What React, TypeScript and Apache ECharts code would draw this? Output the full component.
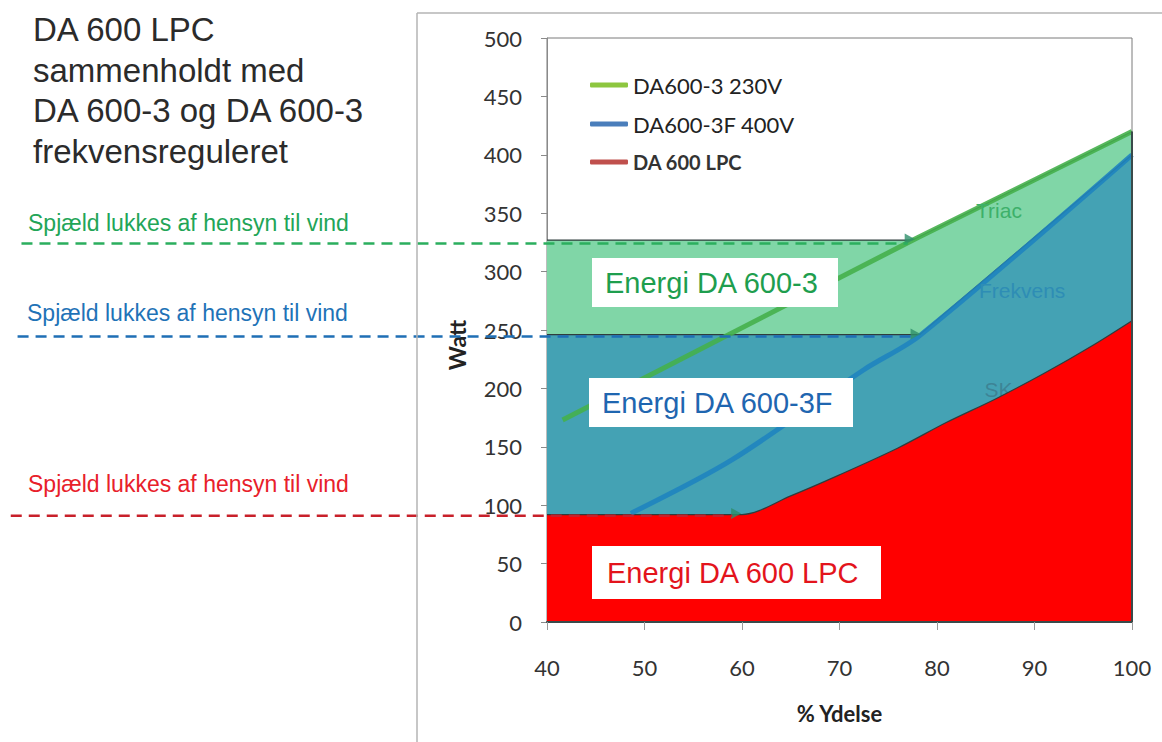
import React, { useEffect, useRef } from "react";
import * as echarts from "echarts";

// ---- axis ticks ----
const xMin = 40;
const xMax = 100;
const xStep = 10;
const yMin = 0;
const yMax = 500;
const yStep = 50;

// ---- energy regions (upper boundary of each filled area) ----
const greenAreaX = [40, 77.5, 100];
const greenAreaY = [327, 327, 420];
const blueAreaX = [40, 78.2, 100];
const blueAreaY = [246, 246, 400];
const redAreaX = [40, 60, 65, 70, 76, 81, 86, 91, 96, 100];
const redAreaY = [92, 92, 108, 126, 149, 171, 191, 213, 237, 258];

// ---- characteristic lines ----
const greenLineX = [41.6, 78, 100];
const greenLineY = [173, 329, 420];
const blueLineX = [48.6, 59, 72.5, 78.2, 100];
const blueLineY = [93, 139, 216, 245, 400];

// ---- "damper closes" dashed levels (x in % Ydelse, extending left of the axis) ----
const greenDashX = [-13.9, 77];
const greenDashY = [324, 324];
const blueDashX = [-14.3, 77.5];
const blueDashY = [244.5, 244.5];
const redDashX = [-15, 59];
const redDashY = [91, 91];

// ---- arrow heads at the bends ----
const arrowX = [77.2, 77.8, 59.4];
const arrowY = [328, 246.5, 93];

// ---- names ----
const seriesNames = ["DA600-3 230V", "DA600-3F 400V", "DA 600 LPC"];
const annotation = "Spjæld lukkes af hensyn til vind";
const titleLines = ["DA 600 LPC", "sammenholdt med", "DA 600-3 og DA 600-3", "frekvensreguleret"];

const zip = (xs: number[], ys: number[]) => xs.map((x, i) => [x, ys[i]]);

export default function App() {
  const ref = useRef<HTMLDivElement>(null);

  useEffect(() => {
    document.body.style.margin = "0";
    const chart = echarts.init(ref.current!, undefined, { renderer: "svg" });
    const outline = { color: "#2f3d3d", width: 1.2 };
    const sansTxt = '"Liberation Sans", Arial, sans-serif';

    const graphics: any[] = [
      { type: "line", z: 100, shape: { x1: 417, y1: 13, x2: 417, y2: 742 }, style: { stroke: "#b4b4b4", lineWidth: 1.5 } },
      { type: "line", z: 100, shape: { x1: 417, y1: 13, x2: 1162, y2: 13 }, style: { stroke: "#b4b4b4", lineWidth: 1.5 } },
      {
        type: "text",
        z: 100,
        x: 33,
        y: 9,
        style: { text: titleLines.join("\n"), font: `33px ${sansTxt}`, lineHeight: 40.7, fill: "#2b2b2b" },
      },
      { type: "text", z: 100, x: 28, y: 223, style: { text: annotation, font: `23px ${sansTxt}`, fill: "#22A557", verticalAlign: "middle" } },
      { type: "text", z: 100, x: 27, y: 313, style: { text: annotation, font: `23px ${sansTxt}`, fill: "#1F73B7", verticalAlign: "middle" } },
      { type: "text", z: 100, x: 28, y: 484, style: { text: annotation, font: `23px ${sansTxt}`, fill: "#E8202A", verticalAlign: "middle" } },
      // energy labels
      { type: "rect", z: 100, shape: { x: 592, y: 258, width: 246, height: 49 }, style: { fill: "#ffffff" } },
      { type: "text", z: 101, x: 605, y: 283, style: { text: "Energi DA 600-3", font: `29px ${sansTxt}`, fill: "#1E9E4E", verticalAlign: "middle" } },
      { type: "rect", z: 100, shape: { x: 589, y: 378, width: 264, height: 49 }, style: { fill: "#ffffff" } },
      { type: "text", z: 101, x: 602, y: 403, style: { text: "Energi DA 600-3F", font: `29px ${sansTxt}`, fill: "#1F66B0", verticalAlign: "middle" } },
      { type: "rect", z: 100, shape: { x: 592, y: 546, width: 289, height: 53 }, style: { fill: "#ffffff" } },
      { type: "text", z: 101, x: 607, y: 573, style: { text: "Energi DA 600 LPC", font: `29px ${sansTxt}`, fill: "#E3141C", verticalAlign: "middle" } },
      { type: "text", z: 100, x: 976, y: 210, style: { text: "Triac", font: `21px ${sansTxt}`, fill: "#3DB06A", verticalAlign: "middle" } },
      { type: "text", z: 100, x: 979, y: 290, style: { text: "Frekvens", font: `21px ${sansTxt}`, fill: "#2E8DB5", verticalAlign: "middle" } },
    ];

    const option: any = {
      animation: false,
      backgroundColor: "#ffffff",
      textStyle: { fontFamily: "Lato" },
      grid: {
        left: 547,
        right: 30,
        top: 38,
        bottom: 120,
        show: true,
        borderColor: "#7a7a7a",
        borderWidth: 1,
      },
      xAxis: {
        type: "value",
        min: xMin,
        max: xMax,
        interval: xStep,
        name: "% Ydelse",
        nameLocation: "middle",
        nameGap: 80,
        nameTextStyle: { fontWeight: "bold", fontSize: 22, color: "#222", fontFamily: "Lato" },
        axisLine: { show: true, lineStyle: { color: "#3a4a4a", width: 2 } },
        axisTick: { show: true, length: 8, lineStyle: { color: "#9a9a9a" } },
        axisLabel: { fontSize: 22, color: "#333", margin: 34, fontFamily: "Lato" },
        splitLine: { show: false },
        z: 10,
      },
      yAxis: {
        type: "value",
        min: yMin,
        max: yMax,
        interval: yStep,
        name: "Watt",
        nameLocation: "middle",
        nameGap: 79,
        nameRotate: 90,
        nameTextStyle: { fontWeight: "bold", fontSize: 23, color: "#222", fontFamily: "Lato", padding: [0, 0, 0, -30] },
        axisLine: { show: true, lineStyle: { color: "#8a8a8a" } },
        axisTick: { show: true, length: 6, lineStyle: { color: "#8a8a8a" } },
        axisLabel: { fontSize: 22, color: "#333", margin: 25, fontFamily: "Lato" },
        splitLine: { show: false },
      },
      legend: {
        orient: "vertical",
        left: 585,
        top: 69,
        itemWidth: 38,
        itemHeight: 5,
        itemGap: 17,
        icon: "roundRect",
        textStyle: { fontSize: 22, color: "#222", fontFamily: "Lato" },
        data: [
          { name: seriesNames[0], itemStyle: { color: "#8DC63F", borderWidth: 0 } },
          { name: seriesNames[1], itemStyle: { color: "#4A7EBB", borderWidth: 0 } },
          {
            name: seriesNames[2],
            itemStyle: { color: "#C0504D", borderWidth: 0 },
            textStyle: { fontWeight: "bold", fontSize: 20, color: "#333" },
          },
        ],
      },
      graphic: graphics,
      series: [
        {
          name: "areaGreen",
          type: "line",
          z: 2,
          data: zip(greenAreaX, greenAreaY),
          symbol: "none",
          lineStyle: outline,
          areaStyle: { color: "#80D6A7", opacity: 1 },
        },
        {
          name: "areaBlue",
          type: "line",
          z: 2,
          data: zip(blueAreaX, blueAreaY),
          symbol: "none",
          lineStyle: outline,
          areaStyle: { color: "#44A2B4", opacity: 1 },
        },
        {
          name: "labelSK",
          type: "scatter",
          z: 2,
          data: [[86.3, 199]],
          symbolSize: 1,
          itemStyle: { color: "transparent" },
          label: {
            show: true,
            position: "inside",
            formatter: "SK",
            fontSize: 21,
            fontFamily: "Liberation Sans",
            color: "#3C7C8E",
          },
        },
        {
          name: seriesNames[2],
          type: "line",
          z: 3,
          data: zip(redAreaX, redAreaY),
          symbol: "none",
          smooth: 0.3,
          itemStyle: { color: "#C0504D" },
          lineStyle: outline,
          areaStyle: { color: "#FF0000", opacity: 1 },
        },
        {
          name: seriesNames[0],
          type: "line",
          z: 4,
          data: zip(greenLineX, greenLineY),
          symbol: "none",
          itemStyle: { color: "#8DC63F" },
          lineStyle: { color: "#45B04C", width: 5, opacity: 0.9 },
        },
        {
          name: seriesNames[1],
          type: "line",
          z: 4,
          data: zip(blueLineX, blueLineY),
          symbol: "none",
          smooth: 0.3,
          itemStyle: { color: "#4A7EBB" },
          lineStyle: { color: "#1F84BF", width: 5, opacity: 0.9 },
        },
        {
          name: "edge",
          type: "line",
          z: 5,
          data: [[xMax, 0], [xMax, greenAreaY[greenAreaY.length - 1]]],
          symbol: "none",
          lineStyle: { color: "#3a4a4a", width: 2 },
        },
        {
          name: "arrows",
          type: "scatter",
          z: 6,
          data: zip(arrowX, arrowY),
          symbol: "triangle",
          symbolRotate: -90,
          symbolSize: [11, 10],
          itemStyle: { color: "#2E8F6A" },
        },
      ],
    };

    chart.setOption(option);

    // dashed "damper" levels, positioned through the chart's own scales
    const dashDefs = [
      { xs: greenDashX, ys: greenDashY, color: "#2BAE5E" },
      { xs: blueDashX, ys: blueDashY, color: "#1F6FB5" },
      { xs: redDashX, ys: redDashY, color: "#C8202A" },
    ];
    const dashGraphics = dashDefs.map((d) => ({
      type: "polyline",
      z: 50,
      shape: { points: zip(d.xs, d.ys).map((p) => chart.convertToPixel({ gridIndex: 0 }, p) as number[]) },
      style: { stroke: d.color, lineWidth: 2.5, lineDash: [11, 7], fill: null },
    }));
    chart.setOption({ graphic: [...graphics, ...dashGraphics] });

    return () => chart.dispose();
  }, []);

  return <div ref={ref} style={{ width: 1162, height: 742 }} />;
}
